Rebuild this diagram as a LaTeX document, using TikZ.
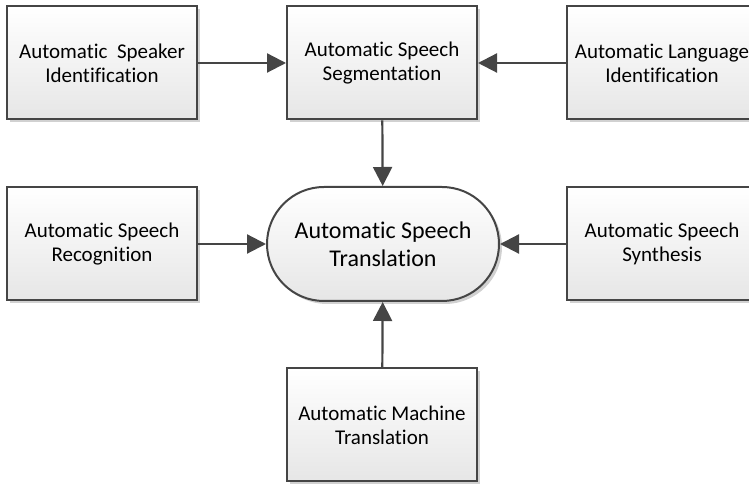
\documentclass[tikz,border=0pt]{standalone}
\usepackage{fontspec}
\setmainfont[Ligatures={NoCommon,NoRare}]{Carlito}
\usetikzlibrary{arrows.meta,shadows}
\definecolor{edge}{HTML}{454545}
\definecolor{fillbot}{HTML}{E6E6E6}
\tikzset{
  base/.style={draw=edge, line width=2pt, top color=white, bottom color=fillbot,
    drop shadow={shadow xshift=3pt, shadow yshift=-3pt, fill=black, opacity=0.18},
    align=center, inner sep=0pt},
  procbox/.style={base, rectangle, minimum width=190pt, minimum height=113pt,
    font=\fontsize{21pt}{24pt}\selectfont},
  termbox/.style={base, rectangle, rounded corners=57pt, minimum width=232pt, minimum height=114pt,
    font=\fontsize{24pt}{28pt}\selectfont},
  conn/.style={draw=edge, line width=2.2pt, -{Triangle[length=19pt,width=19pt]}}
}
\begin{document}
\begin{tikzpicture}[x=1pt,y=1pt]
\useasboundingbox (0,0) rectangle (749,484);
\node[procbox] (spk) at (102,421) {Automatic\ \ Speaker\\Identification};
\node[procbox] (seg) at (382,421) {Automatic Speech\\Segmentation};
\node[procbox] (lang) at (662,421) {Automatic Language\\Identification};
\node[procbox] (rec) at (102,240) {Automatic Speech\\Recognition};
\node[termbox] (ast) at (383,240) {Automatic Speech\\Translation};
\node[procbox] (syn) at (662,240) {Automatic Speech\\Synthesis};
\node[procbox] (mt) at (382,59) {Automatic Machine\\Translation};
\draw[conn] (spk) -- (seg);
\draw[conn] (lang) -- (seg);
\draw[conn] (seg) -- (ast);
\draw[conn] (rec) -- (ast);
\draw[conn] (syn) -- (ast);
\draw[conn] (mt) -- (ast);
\end{tikzpicture}
\end{document}
